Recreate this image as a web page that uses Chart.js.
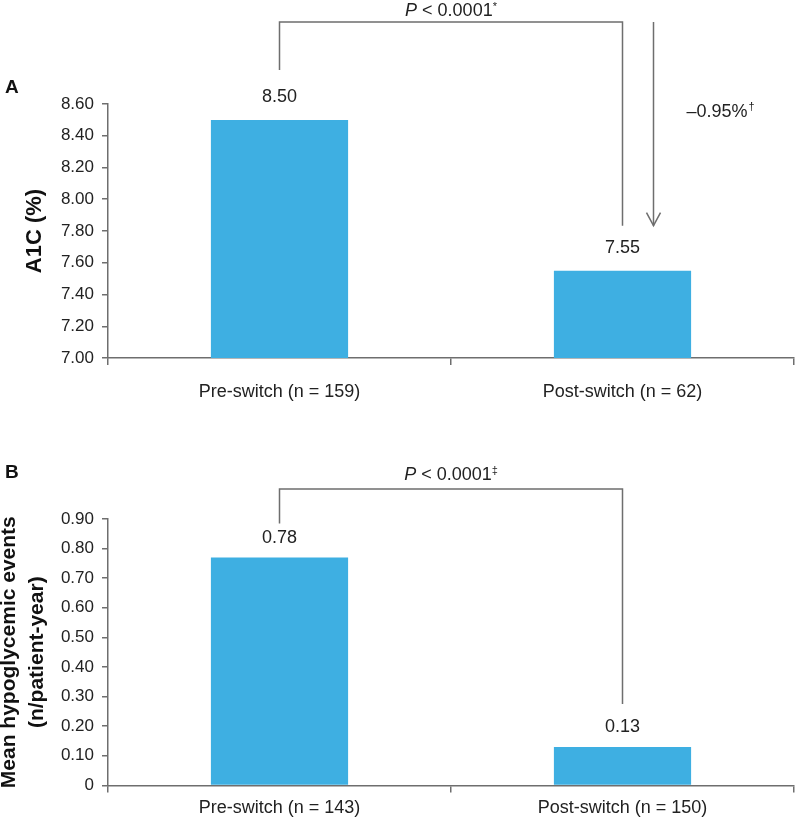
<!DOCTYPE html>
<html>
<head>
<meta charset="utf-8">
<script src="https://cdn.jsdelivr.net/npm/chart.js@4"></script>
<style>
    html, body { margin: 0; padding: 0; background: #fff; }
    .panel { position: absolute; left: 0; width: 796px; }
    #panelA { top: 0; height: 420px; }
    #panelB { top: 420px; height: 404px; }
</style>
</head>
<body>
<div class="panel" id="panelA"><canvas id="chartA"></canvas></div>
<div class="panel" id="panelB"><canvas id="chartB"></canvas></div>
<script>
// panel A: A1C before / after the switch
const a1cLabels = ['Pre-switch (n = 159)', 'Post-switch (n = 62)'];
const a1cValues = [8.50, 7.55];
const a1cValueText = ['8.50', '7.55'];
const a1cMin = 7.0, a1cMax = 8.6, a1cStep = 0.2;

// panel B: hypoglycemic events per patient-year
const hypoLabels = ['Pre-switch (n = 143)', 'Post-switch (n = 150)'];
const hypoValues = [0.77, 0.13];
const hypoValueText = ['0.78', '0.13'];
const hypoMin = 0, hypoMax = 0.9, hypoStep = 0.1;

const FONT = "'Liberation Sans', Arial, Helvetica, sans-serif";
const LINE = '#6e6e6e';
const BAR = '#3eafe2';

Chart.defaults.font.family = FONT;
Chart.defaults.color = '#222';

function drawPValue(ctx, cx, cy, sup) {
    const parts = [
        {t: 'P', f: 'italic 18px ' + FONT, dy: 0},
        {t: ' < 0.0001', f: '18px ' + FONT, dy: 0},
        {t: sup, f: '11px ' + FONT, dy: -4}
    ];
    let w = 0;
    parts.forEach(p => { ctx.font = p.f; w += ctx.measureText(p.t).width; });
    let x = cx - w / 2;
    ctx.textAlign = 'left';
    ctx.textBaseline = 'middle';
    parts.forEach(p => {
        ctx.font = p.f;
        ctx.fillText(p.t, x, cy + p.dy);
        x += ctx.measureText(p.t).width;
    });
}

function line(ctx, pts) {
    ctx.beginPath();
    ctx.moveTo(pts[0][0], pts[0][1]);
    for (let i = 1; i < pts.length; i++) ctx.lineTo(pts[i][0], pts[i][1]);
    ctx.stroke();
}

function annotations(cfg) {
    return {
        id: 'annotations' + cfg.letter,
        afterDraw(chart) {
            const ctx = chart.ctx;
            const xs = chart.scales.x, ys = chart.scales.y;
            const bars = chart.getDatasetMeta(0).data;
            const x0 = xs.getPixelForValue(0), x1 = xs.getPixelForValue(1);
            const top0 = ys.getPixelForValue(cfg.values[0]);
            const top1 = ys.getPixelForValue(cfg.values[1]);
            const bracketY = chart.chartArea.top - cfg.bracketRise;
            ctx.save();
            ctx.fillStyle = '#222';

            // value labels above bars
            ctx.font = '18px ' + FONT;
            ctx.textAlign = 'center';
            ctx.textBaseline = 'middle';
            bars.forEach((b, i) => ctx.fillText(cfg.valueText[i], b.x, b.y - cfg.labelGap));

            // significance bracket
            ctx.strokeStyle = LINE;
            ctx.lineWidth = 1.5;
            line(ctx, [[x0, top0 - cfg.leg0], [x0, bracketY], [x1, bracketY], [x1, top1 - cfg.leg1]]);
            drawPValue(ctx, (x0 + x1) / 2, bracketY - cfg.pGap, cfg.sup);

            // change arrow (panel A only)
            if (cfg.arrow) {
                const ax = x1 + 31, tip = top1 - cfg.leg1;
                line(ctx, [[ax, bracketY], [ax, tip]]);
                line(ctx, [[ax - 7, tip - 13], [ax, tip], [ax + 7, tip - 13]]);
                ctx.font = '18px ' + FONT;
                ctx.textAlign = 'left';
                ctx.fillText('\u20130.95%', ax + 33, bracketY + 90);
                const w = ctx.measureText('\u20130.95%').width;
                ctx.font = '11px ' + FONT;
                ctx.fillText('\u2020', ax + 34 + w, bracketY + 85);
            }

            // panel letter
            ctx.font = 'bold 19px ' + FONT;
            ctx.textAlign = 'left';
            ctx.fillStyle = '#111';
            ctx.fillText(cfg.letter, 5, cfg.letterY);
            ctx.restore();
        }
    };
}

function makeChart(id, labels, values, yMin, yMax, yStep, title, titleSize, titlePad, lineHeight, layoutPad, xPad, plugin) {
    return new Chart(document.getElementById(id), {
        type: 'bar',
        data: {
            labels: labels,
            datasets: [{
                data: values,
                backgroundColor: BAR,
                barPercentage: 0.4,
                categoryPercentage: 1.0
            }]
        },
        options: {
            responsive: true,
            maintainAspectRatio: false,
            animation: false,
            layout: {padding: layoutPad},
            plugins: {legend: {display: false}, tooltip: {enabled: false}},
            scales: {
                x: {
                    grid: {drawOnChartArea: false, tickLength: 7, color: LINE, lineWidth: 1.5, offset: true},
                    border: {color: LINE, width: 1.5},
                    ticks: {font: {size: 18}, padding: xPad, maxRotation: 0, autoSkip: false, color: '#222'}
                },
                y: {
                    min: yMin,
                    max: yMax,
                    afterFit: scale => { scale.width = 108; },
                    grid: {drawOnChartArea: false, tickLength: 6, color: LINE, lineWidth: 1.5},
                    border: {color: LINE, width: 1.5},
                    ticks: {
                        stepSize: yStep,
                        font: {size: 17},
                        padding: 8,
                        color: '#222',
                        callback: v => (v === 0 ? '0' : v.toFixed(2))
                    },
                    title: {
                        display: true,
                        text: title,
                        color: '#111',
                        font: {size: titleSize, weight: 'bold', lineHeight: lineHeight},
                        padding: {top: titlePad, bottom: 0}
                    }
                }
            }
        },
        plugins: [plugin]
    });
}

makeChart('chartA', a1cLabels, a1cValues, a1cMin, a1cMax, a1cStep,
    'A1C (%)', 22, 22, 1.2, {top: 104, right: 2, bottom: 1.4, left: 0}, 16,
    annotations({letter: 'A', letterY: 88, values: a1cValues, valueText: a1cValueText,
        labelGap: 23, bracketRise: 82, leg0: 50, leg1: 45, pGap: 11, sup: '*', arrow: true}));

makeChart('chartB', hypoLabels, hypoValues, hypoMin, hypoMax, hypoStep,
    ['Mean hypoglycemic events', '(n/patient-year)'], 21, -4, 1.3, {top: 99, right: 2, bottom: 0, left: 0}, 5,
    annotations({letter: 'B', letterY: 53, values: hypoValues, valueText: hypoValueText,
        labelGap: 19.5, bracketRise: 30, leg0: 34, leg1: 43, pGap: 14, sup: '\u2021', arrow: false}));
</script>
</body>
</html>
